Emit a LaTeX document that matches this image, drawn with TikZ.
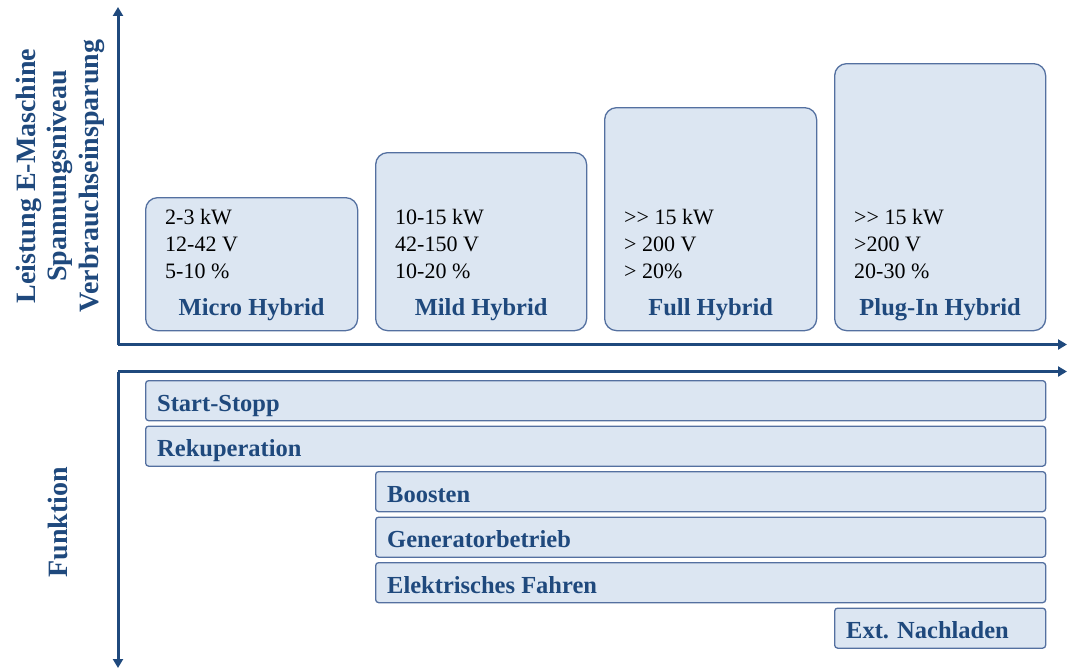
\documentclass[tikz,border=0pt]{standalone}
\usepackage{fontspec}
\setmainfont{Liberation Serif}
\usetikzlibrary{arrows.meta,calc}

\definecolor{axisblue}{RGB}{31,73,125}
\definecolor{boxfill}{RGB}{220,230,242}
\definecolor{boxline}{RGB}{84,112,160}

% two separate ">" signs, kept apart so they are not set as a guillemet
\newcommand{\ggsign}{>\kern0pt>}

\tikzset{
  axisline/.style={draw=axisblue, line width=3pt, line join=round,
    arrows={-Triangle[width=10pt,length=9pt]}},
  hybridbox/.style={draw=boxline, fill=boxfill, line width=1.3pt,
    rounded corners=12pt, anchor=north west, inner sep=0pt},
  funcbar/.style={draw=boxline, fill=boxfill, line width=1.3pt,
    rounded corners=3pt, anchor=north west, inner sep=0pt,
    minimum height=40pt},
  values/.style={anchor=base west, inner sep=0pt, align=left,
    font=\fontsize{22}{27}\selectfont},
  typelabel/.style={anchor=base, inner sep=0pt, text=axisblue,
    font=\fontsize{24.5}{28}\selectfont\bfseries},
  barlabel/.style={anchor=base west, inner sep=0pt, text=axisblue,
    font=\fontsize{24.5}{28}\selectfont\bfseries},
  axislabel/.style={rotate=90, inner sep=0pt, align=center, text=axisblue,
    font=\fontsize{28}{31.5}\selectfont\bfseries}
}

\begin{document}
\begin{tikzpicture}[x=1pt, y=-1pt]
\useasboundingbox (0,0) rectangle (1067,669);

% axes of the upper chart
\coordinate (o1) at (118,344.5);
\coordinate (y1) at (118,7);
\coordinate (x1) at (1067,344.5);
\draw[axisline] (o1) -- (y1);
\draw[axisline] (o1) -- (x1);

% axes of the lower chart
\coordinate (o2) at (118,371.5);
\coordinate (x2) at (1067,371.5);
\coordinate (y2) at (118,668);
\draw[axisline] (o2) -- (x2);
\draw[axisline] (o2) -- (y2);

% axis titles
\node[axislabel] (ltop) at (60,176) {Leistung E-Maschine\\Spannungsniveau\\Verbrauchseinsparung};
\node[axislabel] (lbot) at (58,522) {Funktion};

% hybrid classes
\node[hybridbox, minimum width=212pt, minimum height=133pt] (micro) at (145,197) {};
\node[hybridbox, minimum width=211pt, minimum height=178pt] (mild) at (375,152) {};
\node[hybridbox, minimum width=212pt, minimum height=223pt] (full) at (604,107) {};
\node[hybridbox, minimum width=211pt, minimum height=267pt] (plug) at (834,63) {};

% the base anchor of a multi-line node lies on its last line
\node[values] (vmicro) at ($(micro.south west)+(20,-53)$) {2-3 kW\\12-42 V\\5-10 \%};
\node[values] (vmild) at ($(mild.south west)+(20,-53)$) {10-15 kW\\42-150 V\\10-20 \%};
\node[values] (vfull) at ($(full.south west)+(20,-53)$) {\ggsign{} 15 kW\\> 200 V\\> 20\%};
\node[values] (vplug) at ($(plug.south west)+(20,-53)$) {\ggsign{} 15 kW\\>200 V\\20-30 \%};

\node[typelabel] (tmicro) at ($(micro.south)+(0,-16)$) {Micro Hybrid};
\node[typelabel] (tmild) at ($(mild.south)+(0,-16)$) {Mild Hybrid};
\node[typelabel] (tfull) at ($(full.south)+(0,-16)$) {Full Hybrid};
\node[typelabel] (tplug) at ($(plug.south)+(0,-16)$) {Plug-In Hybrid};

% functions
\node[funcbar, minimum width=900pt] (ss) at (145,380) {};
\node[funcbar, minimum width=900pt] (rek) at (145,425.5) {};
\node[funcbar, minimum width=670pt] (boo) at (375,471) {};
\node[funcbar, minimum width=670pt] (gen) at (375,516.5) {};
\node[funcbar, minimum width=670pt] (ele) at (375,562) {};
\node[funcbar, minimum width=211pt] (ext) at (834,607.5) {};

\node[barlabel] (lss) at ($(ss.south west)+(12,-10)$) {Start-Stopp};
\node[barlabel] (lrek) at ($(rek.south west)+(12,-10)$) {Rekuperation};
\node[barlabel] (lboo) at ($(boo.south west)+(12,-10)$) {Boosten};
\node[barlabel] (lgen) at ($(gen.south west)+(12,-10)$) {Generatorbetrieb};
\node[barlabel] (lele) at ($(ele.south west)+(12,-10)$) {Elektrisches Fahren};
\node[barlabel] (lext) at ($(ext.south west)+(12,-10)$) {Ext. Nachladen};
\end{tikzpicture}
\end{document}
